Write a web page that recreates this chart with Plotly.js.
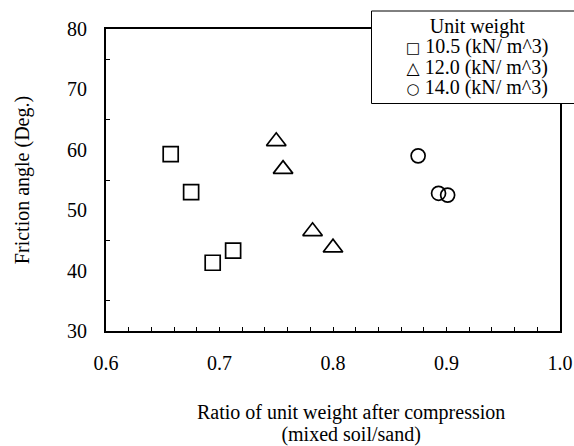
<!DOCTYPE html>
<html>
<head>
<meta charset="utf-8">
<script src="https://cdn.plot.ly/plotly-3.0.1.min.js"></script>
<style>
  html, body { margin: 0; padding: 0; background: #fff; }
  #chart { width: 574px; height: 446px; }
</style>
</head>
<body>
<div id="chart"></div>
<script>
// Friction angle vs. compression unit-weight ratio, three unit-weight groups
var seriesNames = ['10.5 (kN/ m^3)', '12.0 (kN/ m^3)', '14.0 (kN/ m^3)'];
var legendTitle = 'Unit weight';
var legendGlyphs = ['\u25A1', '\u25B3', '\u25CB'];
var markerSymbols = ['square-open', 'triangle-up-open', 'circle-open'];

var ratio105 = [0.657, 0.675, 0.694, 0.712];
var angle105 = [59.3, 53.0, 41.3, 43.3];

var ratio120 = [0.750, 0.756, 0.782, 0.800];
var angle120 = [61.4, 56.8, 46.5, 43.8];

var ratio140 = [0.875, 0.893, 0.901];
var angle140 = [59.0, 52.8, 52.5];

var xTitleLines = ['Ratio of unit weight after compression', '(mixed soil/sand)'];
var yTitle = 'Friction angle (Deg.)';

var serif = 'Liberation Serif, Times New Roman, serif';
var W = 574, H = 446;
var M = {l: 106, r: 14, t: 29, b: 115};
var PW = W - M.l - M.r, PH = H - M.t - M.b;
// pixel -> paper helpers for layout decorations
function px(x) { return (x - M.l) / PW; }
function py(y) { return (H - M.b - y) / PH; }

// Multi-line text: the outer font size sets the line pitch (1.3em),
// each line is drawn at the full text size through an inline span.
function tightLines(lines, textSize) {
  return lines.map(function (l) {
    return '<span style="font-size:' + textSize + 'px">' + l + '</span>';
  }).join('<br>');
}

var xs = [ratio105, ratio120, ratio140];
var ys = [angle105, angle120, angle140];
var sizes = [15, 17, 14];
var glyphSizes = [15, 17, 15];

var traces = xs.map(function (x, i) {
  return {
    type: 'scatter', mode: 'markers', name: seriesNames[i],
    x: x, y: ys[i], showlegend: false, hoverinfo: 'x+y',
    marker: { symbol: markerSymbols[i], size: sizes[i], color: '#000',
              line: { color: '#000', width: 1.7 } }
  };
});

var legendLines = [legendTitle].concat(seriesNames.map(function (n, i) {
  return '<span style="font-family:DejaVu Sans;font-size:' + glyphSizes[i] + 'px">' +
         legendGlyphs[i] + '</span> ' + n;
}));

var annotations = [
  // x-axis title, two lines
  { text: tightLines(xTitleLines, 20), xref: 'paper', yref: 'paper',
    x: px(351), y: py(423), xanchor: 'center', yanchor: 'middle', align: 'center',
    showarrow: false, font: { family: serif, size: 17, color: '#000' } },
  // legend block
  { text: tightLines(legendLines, 20), xref: 'paper', yref: 'paper',
    x: px(477), y: py(57.5), xanchor: 'center', yanchor: 'middle', align: 'center',
    showarrow: false, font: { family: serif, size: 15.6, color: '#000' } }
];

var layout = {
  width: W, height: H,
  margin: M,
  paper_bgcolor: '#fff', plot_bgcolor: '#fff',
  showlegend: false,
  font: { family: serif, size: 20, color: '#000' },
  xaxis: {
    range: [0.6, 1.0], dtick: 0.1, tick0: 0.6, tickformat: '.1f',
    showgrid: false, zeroline: false,
    showline: true, linecolor: '#000', linewidth: 2, mirror: true,
    ticks: 'inside', ticklen: 4, tickwidth: 1, tickcolor: '#000',
    minor: { dtick: 0.02, ticks: 'inside', ticklen: 4, tickwidth: 1, tickcolor: '#000', showgrid: false },
    ticklabelstandoff: 13,
    tickfont: { family: serif, size: 20, color: '#000' }
  },
  yaxis: {
    range: [30, 80], dtick: 10, tick0: 30,
    showgrid: false, zeroline: false,
    showline: true, linecolor: '#000', linewidth: 2, mirror: true,
    ticks: '',
    minor: { dtick: 5, ticks: 'inside', ticklen: 4, tickwidth: 1, tickcolor: '#000', showgrid: false },
    ticklabelstandoff: 13,
    tickfont: { family: serif, size: 20, color: '#000' },
    title: { text: yTitle, standoff: 32, font: { family: serif, size: 20, color: '#000' } }
  },
  shapes: [{
    type: 'rect', xref: 'paper', yref: 'paper', layer: 'above',
    x0: px(371.5), x1: px(590), y0: py(103.5), y1: py(11),
    fillcolor: '#fff', line: { color: '#000', width: 1 }
  }],
  annotations: annotations
};

Plotly.newPlot('chart', traces, layout, { staticPlot: true });
</script>
</body>
</html>
